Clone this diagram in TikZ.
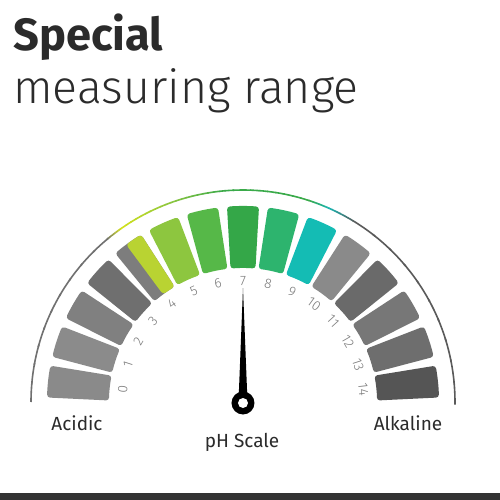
\documentclass[tikz,border=0pt]{standalone}
\usepackage{fontspec}
\setmainfont{Fira Sans}
\newfontfamily\lightfont{Fira Sans Light}
\definecolor{txt}{HTML}{2B2B2B}
\definecolor{numc}{HTML}{7A7A7A}
\definecolor{s0}{HTML}{8A8A8A}
\definecolor{s1}{HTML}{8B8B8B}
\definecolor{s2}{HTML}{808080}
\definecolor{s3}{HTML}{6F6F6F}
\definecolor{s4}{HTML}{7D7D7D}
\definecolor{s4y}{HTML}{B9D332}
\definecolor{s5}{HTML}{8DC63F}
\definecolor{s6}{HTML}{56B848}
\definecolor{s7}{HTML}{34A748}
\definecolor{s8}{HTML}{2DB46E}
\definecolor{s9}{HTML}{14BCB4}
\definecolor{s10}{HTML}{8A8A8A}
\definecolor{s11}{HTML}{6A6A6A}
\definecolor{s12}{HTML}{777777}
\definecolor{s13}{HTML}{6E6E6E}
\definecolor{s14}{HTML}{555555}
\definecolor{ag}{HTML}{707070}
\definecolor{ay}{HTML}{D4E21A}
\definecolor{alg}{HTML}{8CC63F}
\definecolor{agr}{HTML}{3AAA4A}
\definecolor{ate}{HTML}{17B3B0}
\definecolor{adg}{HTML}{5A5A5A}
\definecolor{bar}{HTML}{333333}
\tikzset{
  numlab/.style={text=numc, font=\lightfont\fontsize{6.8}{8}\selectfont, inner sep=0pt},
  bottomlab/.style={text=txt, font=\fontsize{9.5}{11}\selectfont, inner sep=0pt, anchor=base},
}
\begin{document}
\begin{tikzpicture}[x=0.5pt,y=0.5pt]
\useasboundingbox[fill=white] (-243,-98) rectangle (257,402);
% title
\node[anchor=base west, inner sep=0pt, text=txt, font=\bfseries\fontsize{22.6}{27}\selectfont] (title) at (-230,352) {Special};
\node[anchor=base west, inner sep=0pt, text=txt, font=\lightfont\fontsize{23.2}{27}\selectfont] (subtitle) at (-230,299) {measuring range};
% outer gradient arc
\foreach \a/\b/\ca/\cb in {180/130/ag/ag, 130/125/ag/ay, 125/110/ay/alg, 110/95/alg/agr, 95/72/agr/agr, 72/66/agr/ate, 66/58/ate/adg, 58/0/adg/adg}{
  \foreach \t in {0,...,9}{
    \pgfmathsetmacro\s{\a+(\b-\a)*\t/10}
    \pgfmathsetmacro\e{\a+(\b-\a)*(\t+1)/10+(\b-\a)/80}
    \pgfmathsetmacro\p{100-10*\t-5}
    \draw[line width=0.8pt, draw=\ca!\p!\cb] (\s:212) arc[start angle=\s, end angle=\e, radius=212];
  }
}
% segments
\foreach \k in {0,...,14}{
  \pgfmathsetmacro\th{174-12*\k}
  \fill[s\k, rounded corners=1.5pt] (\th-4.68:196) arc[start angle=\th-4.68, end angle=\th+4.68, radius=196]
     -- (\th+5.35:134) arc[start angle=\th+5.35, end angle=\th-5.35, radius=134] -- cycle;
  \node[numlab, rotate=\th-90] (n\k) at (\th:121) {\k};
}
% yellow part of segment 4
\fill[s4y, rounded corners=1.5pt] (121.32:196) arc[start angle=121.32, end angle=126.6, radius=196]
   -- (126.6:134) arc[start angle=126.6, end angle=120.65, radius=134] -- cycle;
% needle
\fill[black] (-4.5,0) -- (0,114) -- (4.5,0) -- cycle;
\fill[black] (0,-1) circle[radius=11.5];
\fill[white] (0,-1) circle[radius=5];
\coordinate (pivot) at (0,-1);
% labels
\node[bottomlab] (acid) at (-166,-28) {Acidic};
\node[bottomlab] (alk) at (165,-28) {Alkaline};
\node[bottomlab] (ph) at (-1,-45) {pH Scale};
% bottom bar
\fill[bar] (-243,-98) rectangle (257,-91);
\end{tikzpicture}
\end{document}
